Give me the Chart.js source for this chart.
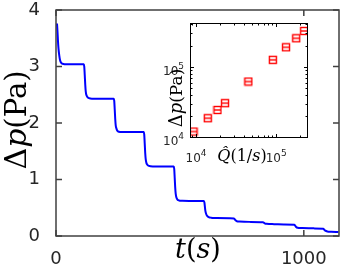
<!DOCTYPE html>
<html><head><meta charset="utf-8">
<script src="https://cdn.jsdelivr.net/npm/chart.js@4"></script>
<style>
html,body{margin:0;padding:0;background:#fff;}
#wrap{position:relative;width:346px;height:273px;overflow:hidden;}
#main{position:absolute;left:0;top:0;}
#inset{position:absolute;left:150px;top:16px;}
</style></head><body>
<div id="wrap"><canvas id="main" width="346" height="273"></canvas><canvas id="inset" width="165" height="160"></canvas></div>
<script>
// ---- main series: pressure drop vs time ----
const timeS = [4,6,8,10,13,16,20,25,35,60,90,112,
  114,116,118,120,123,127,133,145,180,233,
  235,237,239,241,244,248,254,265,300,354,
  356,358,360,362,365,369,375,390,430,475,
  477,479,481,483,486,490,496,510,560,597,
  599,601,603,606,610,616,625,650,700,718,
  724,730,740,780,835,842,850,880,920,962,
  968,975,990,1040,1078,1085,1095,1110,1140];
const pressurePa = [3.76,3.62,3.45,3.32,3.20,3.12,3.07,3.05,3.04,3.04,3.04,3.04,
  3.00,2.85,2.68,2.56,2.49,2.46,2.44,2.43,2.43,2.43,
  2.39,2.24,2.07,1.96,1.90,1.86,1.845,1.84,1.84,1.84,
  1.80,1.64,1.47,1.36,1.29,1.26,1.24,1.23,1.23,1.23,
  1.19,1.03,0.86,0.75,0.68,0.645,0.63,0.625,0.62,0.62,
  0.59,0.51,0.44,0.39,0.355,0.335,0.325,0.32,0.315,0.31,
  0.28,0.26,0.255,0.25,0.245,0.225,0.215,0.21,0.205,0.20,
  0.165,0.145,0.14,0.135,0.13,0.10,0.08,0.075,0.07];
const xTicks = [0, 1000];
const yTicks = [0, 1, 2, 3, 4];

// ---- inset series: pressure drop vs flow rate (log-log) ----
const flowRate = [9.3e3, 1.40e4, 1.85e4, 2.30e4, 4.5e4, 9.1e4, 1.33e5, 1.78e5, 2.24e5];
const pressureInset = [1.21e4, 1.87e4, 2.45e4, 3.06e4, 6.2e4, 1.26e5, 1.90e5, 2.55e5, 3.24e5];
const insetXTicks = [1e4, 1e5];
const insetYTicks = [1e4, 1e5];
const insetTickBase = '10';
const insetTickExp = ['4', '5'];

function zeroPad(s){ s.paddingTop = 0; s.paddingBottom = 0; s.paddingLeft = 0; s.paddingRight = 0; }

function drawRich(ctx, segs, cx, baseY, rot){
  ctx.save();
  ctx.translate(cx, baseY);
  ctx.rotate(rot);
  let w = 0;
  segs.forEach(s=>{ctx.font = s.font; s.w = ctx.measureText(s.text).width; w += s.w;});
  let x = -w/2;
  ctx.textBaseline = 'alphabetic'; ctx.textAlign = 'left'; ctx.fillStyle = s0color(segs);
  segs.forEach(s=>{ctx.font = s.font; ctx.fillText(s.text, x, s.dy || 0); x += s.w;});
  ctx.restore();
}
function s0color(segs){ return segs[0].color || '#000'; }

// power-of-ten label: anchor 'center' (x axis) or 'right' (y axis)
function drawPow(ctx, exp, x, baseY, anchor){
  const bf = '12px "DejaVu Sans"', ef = '9px "DejaVu Sans"';
  ctx.save();
  ctx.fillStyle = '#262626'; ctx.textBaseline = 'alphabetic'; ctx.textAlign = 'left';
  ctx.font = bf; const wb = ctx.measureText(insetTickBase).width;
  ctx.font = ef; const we = ctx.measureText(exp).width;
  const w = wb + we;
  const x0 = anchor === 'center' ? x - w/2 : x - w;
  ctx.font = bf; ctx.fillText(insetTickBase, x0, baseY);
  ctx.font = ef; ctx.fillText(exp, x0 + wb, baseY - 6);
  ctx.restore();
}

const mainFrame = {id:'mainFrame', afterDraw(chart){
  const {ctx, chartArea:a, scales:{x, y}} = chart;
  ctx.save();
  ctx.strokeStyle = '#404040'; ctx.lineWidth = 1.5;
  ctx.strokeRect(a.left, a.top, a.right - a.left, a.bottom - a.top);
  ctx.beginPath();
  const L = 6;
  xTicks.forEach(v=>{const px = x.getPixelForValue(v);
    ctx.moveTo(px, a.bottom); ctx.lineTo(px, a.bottom - L);
    ctx.moveTo(px, a.top); ctx.lineTo(px, a.top + L);});
  yTicks.forEach(v=>{const py = y.getPixelForValue(v);
    ctx.moveTo(a.left, py); ctx.lineTo(a.left + L, py);
    ctx.moveTo(a.right, py); ctx.lineTo(a.right - L, py);});
  ctx.stroke();
  ctx.restore();
  const F = '"DejaVu Serif"';
  drawRich(ctx, [
    {text:'\u0394', font:'30px ' + F},
    {text:'p', font:'italic 30px ' + F},
    {text:'(Pa)', font:'29px ' + F}
  ], 26, 120, -Math.PI/2);
  drawRich(ctx, [
    {text:'t', font:'italic 27px ' + F},
    {text:'(', font:'27px ' + F},
    {text:'s', font:'italic 27px ' + F},
    {text:')', font:'27px ' + F}
  ], 198, 258, 0);
}};

new Chart(document.getElementById('main'), {
  type:'line',
  data:{datasets:[{
    data: timeS.map((t,i)=>({x:t, y:pressurePa[i]})),
    borderColor:'#0000ff', borderWidth:2, pointRadius:0,
    cubicInterpolationMode:'monotone', fill:false
  }]},
  options:{
    responsive:false, animation:false, devicePixelRatio:1,
    layout:{padding:{top:10, right:7, left:0, bottom:0}},
    plugins:{legend:{display:false}, tooltip:{enabled:false}},
    scales:{
      x:{type:'linear', min:0, max:1142,
        grid:{display:false}, border:{display:false},
        afterBuildTicks: s=>{s.ticks = xTicks.map(v=>({value:v}));},
        ticks:{callback: v=>String(v), font:{family:'DejaVu Sans', size:18}, color:'#262626',
          padding:5, maxRotation:0, autoSkip:false},
        afterFit: s=>{s.height = 37; zeroPad(s);}},
      y:{type:'linear', min:0, max:4,
        grid:{display:false}, border:{display:false},
        afterBuildTicks: s=>{s.ticks = yTicks.map(v=>({value:v}));},
        ticks:{callback: v=>String(v), font:{family:'DejaVu Sans', size:18}, color:'#262626',
          padding:8, autoSkip:false},
        afterFit: s=>{s.width = 56; zeroPad(s);}}
    }
  },
  plugins:[mainFrame]
});

// marker: red square with a horizontal bar
const mk = document.createElement('canvas'); mk.width = 10; mk.height = 10;
const m = mk.getContext('2d');
m.strokeStyle = '#ff0000'; m.lineWidth = 1.4;
m.strokeRect(1.5, 1.5, 7, 7);
m.beginPath(); m.moveTo(1.5, 5); m.lineTo(8.5, 5); m.stroke();

function minorList(min, max){
  const out = [];
  for (let d = 1e3; d <= 1e6; d *= 10) for (let k = 2; k <= 9; k++) { const v = k*d; if (v > min && v < max) out.push(v); }
  return out;
}

const insetFrame = {id:'insetFrame', afterDraw(chart){
  const {ctx, chartArea:a, scales:{x, y}} = chart;
  ctx.save();
  ctx.strokeStyle = '#000'; ctx.lineWidth = 1;
  ctx.strokeRect(a.left + 0.5, a.top + 0.5, a.right - a.left - 1, a.bottom - a.top - 1);
  ctx.beginPath();
  const tick = (vals, len) => {
    vals.forEach(v=>{const px = Math.round(x.getPixelForValue(v)) + 0.5;
      ctx.moveTo(px, a.bottom); ctx.lineTo(px, a.bottom - len);
      ctx.moveTo(px, a.top); ctx.lineTo(px, a.top + len);});
  };
  const ticky = (vals, len) => {
    vals.forEach(v=>{const py = Math.round(y.getPixelForValue(v)) + 0.5;
      ctx.moveTo(a.left, py); ctx.lineTo(a.left + len, py);
      ctx.moveTo(a.right, py); ctx.lineTo(a.right - len, py);});
  };
  tick(insetXTicks, 4); tick(minorList(x.min, x.max), 2.5);
  ticky(insetYTicks, 4); ticky(minorList(y.min, y.max), 2.5);
  ctx.stroke();
  ctx.restore();
  insetXTicks.forEach((v,i)=>drawPow(ctx, insetTickExp[i], x.getPixelForValue(v), a.bottom + 24, 'center'));
  insetYTicks.forEach((v,i)=>drawPow(ctx, insetTickExp[i], a.left - 6, y.getPixelForValue(v) + 8, 'right'));
  const F = '"DejaVu Serif"';
  drawRich(ctx, [
    {text:'\u0394', font:'18px ' + F},
    {text:'p', font:'italic 18px ' + F},
    {text:'(Pa)', font:'17px ' + F}
  ], 32, 82, -Math.PI/2);
  drawRich(ctx, [
    {text:'Q\u0302', font:'italic 16px ' + F},
    {text:'(1/', font:'16px ' + F},
    {text:'s', font:'italic 16px ' + F},
    {text:')', font:'16px ' + F}
  ], 92, 145, 0);
}};

new Chart(document.getElementById('inset'), {
  type:'scatter',
  data:{datasets:[{
    data: flowRate.map((q,i)=>({x:q, y:pressureInset[i]})),
    pointStyle: mk, pointRadius:5, showLine:false
  }]},
  options:{
    responsive:false, animation:false, devicePixelRatio:1,
    layout:{padding:{top:7, right:7, left:0, bottom:0}},
    plugins:{legend:{display:false}, tooltip:{enabled:false}},
    scales:{
      x:{type:'logarithmic', min:8.4e3, max:2.5e5,
        grid:{display:false}, border:{display:false},
        afterBuildTicks: s=>{s.ticks = insetXTicks.map(v=>({value:v}));},
        ticks:{display:false},
        afterFit: s=>{s.height = 38; zeroPad(s);}},
      y:{type:'logarithmic', min:9.8e3, max:4.2e5,
        grid:{display:false}, border:{display:false},
        afterBuildTicks: s=>{s.ticks = insetYTicks.map(v=>({value:v}));},
        ticks:{display:false},
        afterFit: s=>{s.width = 40; zeroPad(s);}}
    }
  },
  plugins:[insetFrame]
});
</script>
</body></html>
